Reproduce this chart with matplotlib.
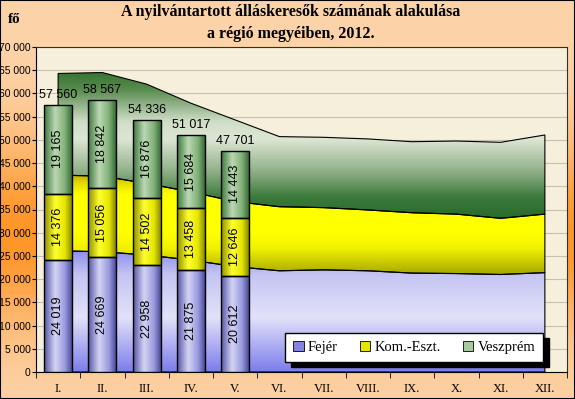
import numpy as np
import matplotlib.pyplot as plt
from matplotlib.colors import LinearSegmentedColormap
from matplotlib.patches import Polygon, Patch, Rectangle

months = ["I.", "II.", "III.", "IV.", "V.", "VI.", "VII.", "VIII.", "IX.", "X.", "XI.", "XII."]
series = ["Fejér", "Kom.-Eszt.", "Veszprém"]

# previous year, drawn as stacked area
fejer_prev = [26100, 25900, 25200, 24100, 22700, 21800, 22000, 21800, 21300, 21200, 21000, 21400]
kom_prev = [16300, 16300, 15400, 14700, 14000, 13800, 13400, 13100, 13000, 12800, 12100, 12600]
veszprem_prev = [21900, 22300, 21400, 19100, 17600, 15100, 15150, 15300, 15300, 15750, 16370, 17050]

# 2012, stacked bars
fejer = [24019, 24669, 22958, 21875, 20612]
kom = [14376, 15056, 14502, 13458, 12646]
veszprem = [19165, 18842, 16876, 15684, 14443]

area_cmaps = [
    LinearSegmentedColormap.from_list("fa", [(0, "#7c7cec"), (0.45, "#e2e2fa"), (0.8, "#c4c4f2"),
                                             (1, "#8c8cee")]),
    LinearSegmentedColormap.from_list("ka", [(0, "#a8a800"), (0.25, "#f0f000"), (0.4, "#ffff00"),
                                             (0.8, "#ffff00"), (0.92, "#e0d800"), (1, "#b8a800")]),
    LinearSegmentedColormap.from_list("va", [(0, "#2a6a2a"), (0.14, "#3a7a3a"), (0.32, "#90b088"),
                                             (0.54, "#dce6d4"), (0.66, "#d0dec8"), (0.88, "#5a8c50"),
                                             (1, "#357432")]),
]
bar_cmaps = [
    LinearSegmentedColormap.from_list("fb", [(0, "#5252a4"), (0.4, "#d4d4f4"), (0.75, "#9a9ae0"), (1, "#4a4a9a")]),
    LinearSegmentedColormap.from_list("kb", [(0, "#8c8c00"), (0.4, "#ffff30"), (0.75, "#e6e600"), (1, "#888800")]),
    LinearSegmentedColormap.from_list("vb", [(0, "#3a763a"), (0.4, "#bcd8b4"), (0.75, "#80b078"), (1, "#366c36")]),
]
legend_colors = ["#8484e0", "#e4e400", "#a8c8a0"]


def gradient(ax, patch, cmap, extent, horizontal, z):
    g = np.linspace(0, 1, 256)
    img = g[None, :] if horizontal else g[:, None]
    im = ax.imshow(img, cmap=cmap, extent=extent, origin="lower", aspect="auto",
                   interpolation="bicubic", zorder=z)
    im.set_clip_path(patch)


fig = plt.figure(figsize=(5.75, 3.99), dpi=100)

# figure background: peach with orange band on the sides
bg = fig.add_axes([0, 0, 1, 1], zorder=-10)
yy = np.linspace(0, 399, 200)[:, None]
xx = np.linspace(0, 575, 300)[None, :]
w = np.exp(-((yy - 235) / 95) ** 2) * np.ones_like(xx)
peach = np.array([252, 212, 170]) / 255
orange = np.array([255, 150, 40]) / 255
bg.imshow(peach + w[..., None] * (orange - peach), aspect="auto", extent=(0, 1, 0, 1))
bg.axis("off")
fig.patches.append(Rectangle((0, 0), 1, 1, transform=fig.transFigure, fill=False,
                             edgecolor="black", linewidth=1.5))

ax = fig.add_axes([36 / 575, 1 - 372 / 399, 531 / 575, 325 / 399])
ax.set_facecolor("#f6efdb")

x = np.arange(len(months))
prev = [fejer_prev, kom_prev, veszprem_prev]
base = np.zeros(len(months))
for vals, cmap in zip(prev, area_cmaps):
    top = base + np.array(vals)
    verts = np.concatenate([np.column_stack([x, top]), np.column_stack([x[::-1], base[::-1]])])
    poly = Polygon(verts, closed=True, facecolor="none", edgecolor="black", linewidth=0.8, zorder=2)
    ax.add_patch(poly)
    gradient(ax, poly, cmap, (0, 11, base.min(), top.max()), False, 1.9)
    base = top

xb = np.arange(len(fejer))
width = 0.63
bottom = np.zeros(len(fejer))
for vals, cmap in zip([fejer, kom, veszprem], bar_cmaps):
    bars = ax.bar(xb, vals, width, bottom=bottom, facecolor="none", edgecolor="black",
                  linewidth=1, zorder=3)
    for rect, v in zip(bars, vals):
        x0, y0 = rect.get_x(), rect.get_y()
        gradient(ax, rect, cmap, (x0, x0 + rect.get_width(), y0, y0 + rect.get_height()), True, 2.9)
        ax.text(x0 + rect.get_width() / 2, y0 + rect.get_height() / 2, f"{v:,}".replace(",", " "),
                rotation=90, ha="center", va="center", fontsize=9,
                family="Liberation Sans", zorder=4)
    bottom = bottom + np.array(vals)

for xi, t in zip(xb, bottom):
    ax.text(xi, t + 800, f"{int(t):,}".replace(",", " "), ha="center", va="bottom",
            fontsize=9, family="Liberation Sans", zorder=4)

ax.set_xlim(-0.5, 11.5)
ax.set_ylim(0, 70000)
ax.set_yticks(np.arange(0, 70001, 5000))
ax.set_yticklabels([f"{v:,}".replace(",", " ") for v in range(0, 70001, 5000)],
                   family=["Liberation Sans Narrow", "Liberation Sans"], fontsize=7.5)
ax.set_xticks(x)
ax.set_xticklabels(months, family="Liberation Serif", fontsize=9)
ax.set_xticks(np.arange(-0.5, 12, 1), minor=True)
ax.tick_params(axis="x", which="major", length=0, pad=8)
ax.tick_params(axis="x", which="minor", length=4, direction="out")
ax.tick_params(axis="y", length=3, pad=1)
ax.grid(axis="y", color="#c8c0ae", linewidth=0.8, zorder=0.5)
ax.set_axisbelow(True)
for s in ["top", "right"]:
    ax.spines[s].set_color("#303030")
    ax.spines[s].set_linewidth(0.8)
for s in ["left", "bottom"]:
    ax.spines[s].set_color("black")
    ax.spines[s].set_linewidth(0.8)

handles = [Patch(facecolor=c, edgecolor="black", linewidth=0.6) for c in legend_colors]
leg = ax.legend(handles, series, loc="lower right", bbox_to_anchor=(0.955, 0.031), ncol=3,
                prop={"family": "Liberation Serif", "size": 10.5}, frameon=True, fancybox=False,
                shadow={"color": "black", "alpha": 1, "ox": 4, "oy": -4},
                handlelength=0.7, handleheight=0.7, handletextpad=0.3, columnspacing=1.5,
                borderpad=0.55, borderaxespad=0, framealpha=1)
leg.get_frame().set_edgecolor("black")
leg.get_frame().set_linewidth(1)
leg.set_zorder(6)

fig.text(0.505, 0.943, "A nyilvántartott álláskeresők számának alakulása\na régió megyéiben, 2012.",
         ha="center", va="center", fontsize=11.5, fontweight="bold", family="Liberation Serif",
         linespacing=1.5)
fig.text(0.013, 0.95, "fő", ha="left", va="center", fontsize=11, fontweight="bold",
         family="Liberation Serif")

fig.savefig("out.png", dpi=100)
